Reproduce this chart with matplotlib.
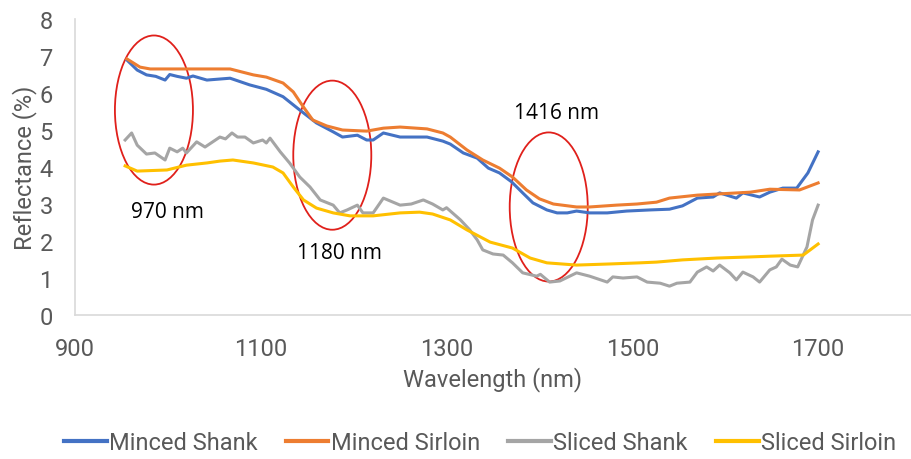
import matplotlib
matplotlib.use("Agg")
import matplotlib.pyplot as plt
from matplotlib.patches import Ellipse

# values
wl_ms = [956, 967, 977, 987, 997, 1002, 1010, 1020, 1027, 1042, 1067, 1088, 1106, 1124, 1142, 1160,
         1178, 1188, 1204, 1214, 1221, 1232, 1250, 1279, 1296, 1304, 1318, 1333, 1345, 1357, 1370,
         1382, 1393, 1408, 1419, 1430, 1440, 1454, 1473, 1494, 1519, 1540, 1554, 1570, 1587, 1594,
         1612, 1619, 1637, 1648, 1662, 1677, 1689, 1700]
minced_shank = [6.89, 6.62, 6.49, 6.45, 6.35, 6.5, 6.45, 6.4, 6.46, 6.35, 6.4, 6.22, 6.1, 5.9, 5.54,
                5.19, 4.95, 4.81, 4.86, 4.73, 4.73, 4.92, 4.81, 4.81, 4.7, 4.62, 4.38, 4.24, 3.97,
                3.84, 3.6, 3.3, 3.03, 2.84, 2.76, 2.76, 2.81, 2.76, 2.76, 2.81, 2.84, 2.86, 2.95,
                3.16, 3.19, 3.3, 3.16, 3.3, 3.19, 3.32, 3.43, 3.43, 3.84, 4.41]

wl_msi = [956, 970, 981, 1016, 1067, 1092, 1106, 1124, 1135, 1146, 1156, 1171, 1188, 1214, 1232,
          1250, 1279, 1296, 1304, 1322, 1339, 1357, 1371, 1386, 1400, 1415, 1440, 1454, 1483, 1505,
          1526, 1540, 1570, 1591, 1627, 1648, 1680, 1700]
minced_sirloin = [6.92, 6.7, 6.65, 6.65, 6.65, 6.49, 6.43, 6.27, 6.03, 5.62, 5.27, 5.11, 5.0, 4.97,
                  5.05, 5.08, 5.03, 4.92, 4.81, 4.46, 4.19, 3.97, 3.73, 3.38, 3.14, 3.0, 2.92, 2.92,
                  2.97, 3.0, 3.05, 3.16, 3.24, 3.27, 3.32, 3.4, 3.38, 3.57]

wl_ss = [954, 961, 967, 977, 986, 997, 1002, 1010, 1016, 1020, 1031, 1040, 1056, 1062, 1069, 1075,
         1083, 1092, 1102, 1106, 1110, 1121, 1131, 1142, 1153, 1164, 1178, 1185, 1193, 1204, 1210,
         1221, 1232, 1250, 1262, 1275, 1285, 1296, 1300, 1315, 1325, 1333, 1339, 1350, 1361, 1371,
         1382, 1397, 1401, 1411, 1422, 1440, 1454, 1473, 1479, 1490, 1505, 1516, 1530, 1540, 1548,
         1562, 1570, 1580, 1587, 1594, 1605, 1612, 1619, 1630, 1637, 1648, 1655, 1661, 1670, 1678,
         1688, 1694, 1700]
sliced_shank = [4.73, 4.92, 4.59, 4.35, 4.38, 4.19, 4.51, 4.41, 4.51, 4.38, 4.68, 4.54, 4.81, 4.76,
                4.92, 4.81, 4.81, 4.65, 4.73, 4.65, 4.78, 4.41, 4.11, 3.73, 3.46, 3.11, 2.97, 2.76,
                2.84, 2.97, 2.76, 2.76, 3.16, 2.97, 3.0, 3.11, 3.0, 2.84, 2.9, 2.57, 2.3, 2.03, 1.76,
                1.65, 1.62, 1.41, 1.14, 1.05, 1.1, 0.89, 0.92, 1.14, 1.05, 0.89, 1.03, 1.0, 1.03,
                0.89, 0.86, 0.78, 0.86, 0.89, 1.16, 1.3, 1.19, 1.35, 1.14, 0.95, 1.16, 1.03, 0.89,
                1.22, 1.3, 1.51, 1.35, 1.3, 1.84, 2.57, 2.97]

wl_ssi = [954, 967, 999, 1020, 1042, 1056, 1070, 1092, 1113, 1124, 1135, 1146, 1160, 1178, 1196,
          1221, 1250, 1271, 1285, 1304, 1322, 1347, 1371, 1390, 1408, 1440, 1476, 1508, 1526, 1554,
          1591, 1627, 1648, 1684, 1700]
sliced_sirloin = [4.03, 3.89, 3.92, 4.05, 4.11, 4.16, 4.19, 4.11, 4.0, 3.84, 3.46, 3.11, 2.89, 2.76,
                  2.68, 2.68, 2.76, 2.78, 2.73, 2.57, 2.3, 1.97, 1.81, 1.54, 1.41, 1.35, 1.38, 1.41,
                  1.43, 1.49, 1.54, 1.57, 1.59, 1.62, 1.92]

# marked bands: label, ellipse centre, label position
bands = ["970 nm", "1180 nm", "1416 nm"]
band_centre = [(985, 5.54), (1177, 4.32), (1410, 2.92)]
band_label = [(1000, 2.81), (1185, 1.68), (1418, 5.46)]

xticks = [900, 1100, 1300, 1500, 1700]
yticks = [0, 1, 2, 3, 4, 5, 6, 7, 8]

grey = "#595959"
tick_font = "Roboto"

fig = plt.figure(figsize=(9.11, 4.60), dpi=100)
ax = fig.add_axes([0.0823, 0.313, 0.9177, 0.6435])

ax.plot(wl_ms, minced_shank, color="#4472C4", lw=2.2, label="Minced Shank")
ax.plot(wl_msi, minced_sirloin, color="#ED7D31", lw=2.2, label="Minced Sirloin")
ax.plot(wl_ss, sliced_shank, color="#A5A5A5", lw=2.2, label="Sliced Shank")
ax.plot(wl_ssi, sliced_sirloin, color="#FFC000", lw=2.2, label="Sliced Sirloin")

for c in band_centre:
    ax.add_patch(Ellipse(c, 84, 4.03, fill=False, ec="#E0201B", lw=1.3))
for t, p in zip(bands, band_label):
    ax.text(p[0], p[1], t, ha="center", va="center", fontsize=15, family="Open Sans", color="black")

ax.set_xlim(900, 1800)
ax.set_ylim(0, 8)
ax.set_xticks(xticks)
ax.set_yticks(yticks)
ax.tick_params(length=0, labelsize=17, labelcolor=grey, pad=16)
for lab in ax.get_xticklabels() + ax.get_yticklabels():
    lab.set_family(tick_font)

for s in ["top", "right"]:
    ax.spines[s].set_visible(False)
ax.spines["left"].set_color("#D9D9D9")
ax.spines["bottom"].set_color("#D9D9D9")
ax.spines["left"].set_linewidth(1.2)
ax.spines["bottom"].set_linewidth(1.2)

ax.set_xlabel("Wavelength (nm)", fontsize=17, color=grey, family=tick_font, labelpad=4)
ax.set_ylabel("Reflectance (%)", fontsize=17, color=grey, family=tick_font, labelpad=2)

leg = fig.legend(loc="center", bbox_to_anchor=(0.527, 0.035), ncol=4, frameon=False,
                 handlelength=1.8, handletextpad=0.1, columnspacing=1.2,
                 prop={"family": tick_font, "size": 17})
for t in leg.get_texts():
    t.set_color(grey)
for h in leg.get_lines():
    h.set_linewidth(3)

fig.savefig("out.png", dpi=100)
